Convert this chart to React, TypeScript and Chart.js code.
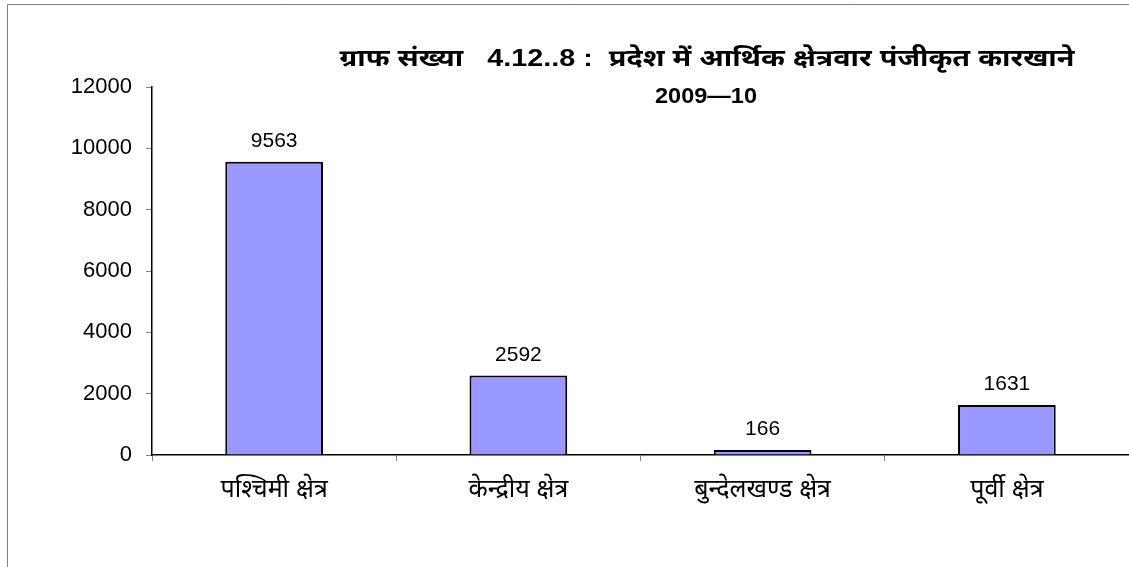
import React, { useEffect, useRef } from "react";
import { Chart, registerables } from "chart.js";

Chart.register(...registerables);

const categories = ["पश्चिमी क्षेत्र", "केन्द्रीय क्षेत्र", "बुन्देलखण्ड क्षेत्र", "पूर्वी क्षेत्र"];
const factories = [9563, 2592, 166, 1631];
const titleLine1 = "ग्राफ संख्या   4.12..8 :  प्रदेश में आर्थिक क्षेत्रवार पंजीकृत कारखाने";
const titleLine2 = "2009—10";
const yMin = 0;
const yMax = 12000;
const yStep = 2000;

const FONT = "'Liberation Sans', Arial, 'Noto Sans', sans-serif";

function fitText(ctx: CanvasRenderingContext2D, text: string, cx: number, cy: number, targetW: number) {
  const w = ctx.measureText(text).width;
  const sx = targetW / w;
  ctx.save();
  ctx.translate(cx, cy);
  ctx.scale(sx, 1);
  ctx.fillText(text, 0, 0);
  ctx.restore();
}

export default function App() {
  const ref = useRef<HTMLCanvasElement | null>(null);

  useEffect(() => {
    document.body.style.margin = "0";
    const canvas = ref.current;
    if (!canvas) return;

    const framePlugin = {
      id: "frame",
      beforeDraw(chart: any) {
        const ctx = chart.ctx;
        ctx.save();
        ctx.fillStyle = "#ffffff";
        ctx.fillRect(0, 0, chart.width, chart.height);
        ctx.strokeStyle = "#808080";
        ctx.lineWidth = 1;
        ctx.beginPath();
        ctx.moveTo(7.5, chart.height);
        ctx.lineTo(7.5, 4.5);
        ctx.lineTo(chart.width, 4.5);
        ctx.stroke();
        ctx.restore();
      },
      afterDraw(chart: any) {
        const ctx = chart.ctx;
        ctx.save();
        ctx.fillStyle = "#000000";
        ctx.textAlign = "center";
        ctx.textBaseline = "middle";
        ctx.font = `bold 24px ${FONT}`;
        fitText(ctx, titleLine1, 707, 59, 735);
        ctx.font = `bold 22px ${FONT}`;
        fitText(ctx, titleLine2, 706, 97, 102);

        ctx.font = `21px ${FONT}`;
        ctx.textBaseline = "alphabetic";
        const meta = chart.getDatasetMeta(0);
        meta.data.forEach((bar: any, i: number) => {
          ctx.fillText(String(factories[i]), bar.x, bar.y - 15);
        });
        ctx.restore();
      },
    };

    const chart = new Chart(canvas, {
      type: "bar",
      data: {
        labels: categories,
        datasets: [
          {
            data: factories,
            backgroundColor: "#9999FF",
            borderColor: "#000000",
            borderWidth: 2,
            barPercentage: 0.4,
            categoryPercentage: 1,
          },
        ],
      },
      options: {
        responsive: false,
        animation: false,
        layout: { padding: { top: 87, right: 0, left: 0, bottom: 0 } },
        plugins: {
          legend: { display: false },
          title: { display: false },
          tooltip: { enabled: false },
        },
        scales: {
          x: {
            grid: {
              display: true,
              drawOnChartArea: false,
              drawTicks: true,
              tickLength: 6,
              color: "#808080",
              offset: true,
            },
            border: { display: true, color: "#000000", width: 1.5 },
            ticks: {
              color: "#000000",
              font: { family: FONT, size: 25 },
              padding: 14,
              maxRotation: 0,
              autoSkip: false,
            },
            afterFit(scale: any) {
              scale.height = 112;
            },
          },
          y: {
            min: yMin,
            max: yMax,
            grid: {
              display: true,
              drawOnChartArea: false,
              drawTicks: true,
              tickLength: 6,
              color: "#808080",
            },
            border: { display: true, color: "#000000", width: 1.5 },
            ticks: {
              stepSize: yStep,
              color: "#000000",
              font: { family: FONT, size: 22 },
              padding: 14,
              callback: (v: any) => String(v),
            },
            afterFit(scale: any) {
              scale.width = 152;
            },
          },
        },
      },
      plugins: [framePlugin],
    });

    return () => chart.destroy();
  }, []);

  return <canvas ref={ref} width={1129} height={567} style={{ display: "block" }} />;
}
